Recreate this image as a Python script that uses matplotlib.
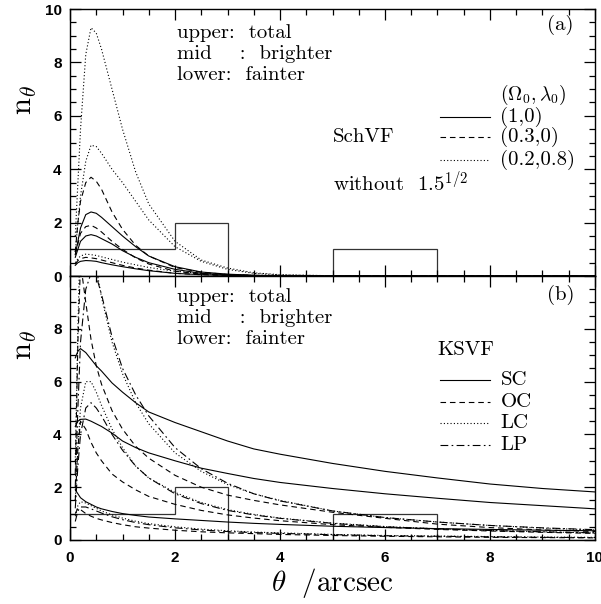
import matplotlib
matplotlib.use("Agg")
import matplotlib.pyplot as plt
from matplotlib.ticker import MultipleLocator
import numpy as np

plt.rcParams['mathtext.fontset'] = 'cm'

# angular grid the curves were read on (arcsec)
theta = [0.1, 0.15, 0.2, 0.3, 0.4, 0.5, 0.6, 0.8, 1.0, 1.25, 1.5, 2.0, 2.5,
         3.0, 3.5, 4.0, 5.0, 6.0, 7.0, 8.0, 9.0, 10.0]

# observed histogram (same in both panels)
hist_edges = [0, 2, 3, 5, 7, 10]
hist_counts = [1, 2, 0, 1, 0]

# panel (a): SchVF, (Omega0, lambda0) = (1,0), (0.3,0), (0.2,0.8)
sch_10_total = [0.8, 1.3, 1.8, 2.3, 2.4, 2.35, 2.2, 1.85, 1.5, 1.1, 0.75, 0.35, 0.15,
                0.07, 0.03, 0.01, 0.0, 0.0, 0.0, 0.0, 0.0, 0.0]
sch_10_bright = [0.7, 1.0, 1.3, 1.5, 1.55, 1.5, 1.4, 1.2, 0.95, 0.7, 0.5, 0.25, 0.1,
                 0.05, 0.02, 0.01, 0.0, 0.0, 0.0, 0.0, 0.0, 0.0]
sch_10_faint = [0.4, 0.5, 0.55, 0.58, 0.57, 0.55, 0.5, 0.42, 0.35, 0.27, 0.2, 0.1, 0.05,
                0.02, 0.01, 0.0, 0.0, 0.0, 0.0, 0.0, 0.0, 0.0]
sch_030_total = [0.9, 2.0, 2.8, 3.5, 3.7, 3.55, 3.25, 2.4, 1.75, 1.15, 0.75, 0.32, 0.14,
                 0.06, 0.02, 0.01, 0.0, 0.0, 0.0, 0.0, 0.0, 0.0]
sch_030_bright = [0.8, 1.2, 1.6, 1.85, 1.9, 1.8, 1.65, 1.3, 1.0, 0.68, 0.45, 0.18, 0.07,
                  0.03, 0.01, 0.0, 0.0, 0.0, 0.0, 0.0, 0.0, 0.0]
sch_030_faint = [0.45, 0.58, 0.65, 0.7, 0.68, 0.65, 0.6, 0.5, 0.4, 0.3, 0.22, 0.1, 0.05,
                 0.02, 0.01, 0.0, 0.0, 0.0, 0.0, 0.0, 0.0, 0.0]
sch_0208_total = [1.5, 3.5, 5.5, 8.3, 9.3, 9.1, 8.5, 7.0, 5.5, 3.9, 2.7, 1.3, 0.6,
                  0.3, 0.12, 0.05, 0.01, 0.0, 0.0, 0.0, 0.0, 0.0]
sch_0208_bright = [0.9, 2.0, 3.0, 4.3, 4.9, 4.85, 4.6, 4.0, 3.5, 2.8, 2.1, 1.1, 0.55,
                   0.25, 0.1, 0.04, 0.01, 0.0, 0.0, 0.0, 0.0, 0.0]
sch_0208_faint = [0.5, 0.65, 0.75, 0.82, 0.8, 0.77, 0.72, 0.62, 0.52, 0.42, 0.32, 0.18, 0.1,
                  0.05, 0.02, 0.01, 0.0, 0.0, 0.0, 0.0, 0.0, 0.0]

# panel (b): KSVF, models SC, OC, LC, LP
ks_sc_total = [6.9, 7.15, 7.25, 7.1, 6.85, 6.6, 6.4, 5.95, 5.6, 5.2, 4.85, 4.45, 4.1,
               3.75, 3.45, 3.25, 2.9, 2.6, 2.35, 2.12, 1.95, 1.82]
ks_sc_bright = [4.3, 4.5, 4.57, 4.58, 4.5, 4.4, 4.3, 4.05, 3.75, 3.5, 3.3, 3.0, 2.72,
                2.52, 2.33, 2.18, 1.95, 1.75, 1.58, 1.42, 1.3, 1.18]
ks_sc_faint = [1.9, 1.75, 1.6, 1.45, 1.35, 1.25, 1.18, 1.08, 1.0, 0.93, 0.87, 0.8, 0.74,
               0.68, 0.63, 0.59, 0.52, 0.47, 0.43, 0.4, 0.37, 0.35]
ks_oc_total = [2.5, 7.5, 10.5, 9.0, 7.6, 6.6, 5.9, 4.9, 4.2, 3.55, 3.1, 2.45, 2.0,
               1.7, 1.5, 1.33, 1.05, 0.82, 0.6, 0.47, 0.38, 0.32]
ks_oc_bright = [1.5, 3.5, 4.5, 4.2, 3.7, 3.3, 3.0, 2.5, 2.2, 1.9, 1.65, 1.35, 1.12,
                0.95, 0.83, 0.73, 0.58, 0.48, 0.4, 0.34, 0.29, 0.25]
ks_oc_faint = [1.0, 1.2, 1.15, 1.0, 0.9, 0.82, 0.76, 0.66, 0.58, 0.5, 0.45, 0.37, 0.31,
               0.27, 0.24, 0.21, 0.17, 0.14, 0.12, 0.1, 0.09, 0.08]
ks_lc_total = [3.0, 8.0, 12.0, 12.5, 11.5, 10.3, 9.2, 7.5, 6.3, 5.2, 4.4, 3.3, 2.6,
               2.1, 1.75, 1.5, 1.1, 0.85, 0.68, 0.55, 0.45, 0.38]
ks_lc_bright = [1.5, 3.5, 5.0, 6.0, 6.0, 5.6, 5.1, 4.2, 3.5, 2.8, 2.35, 1.8, 1.42,
                1.15, 0.97, 0.83, 0.64, 0.51, 0.42, 0.36, 0.31, 0.27]
ks_lc_faint = [0.9, 1.3, 1.45, 1.4, 1.3, 1.2, 1.1, 0.95, 0.83, 0.71, 0.62, 0.5, 0.41,
               0.35, 0.3, 0.27, 0.21, 0.17, 0.15, 0.13, 0.11, 0.1]
ks_lp_total = [2.0, 5.0, 7.5, 9.5, 10.1, 10.0, 9.3, 7.7, 6.5, 5.5, 4.7, 3.5, 2.7,
               2.15, 1.75, 1.48, 1.1, 0.85, 0.68, 0.55, 0.46, 0.39]
ks_lp_bright = [1.2, 2.8, 4.0, 5.0, 5.2, 5.0, 4.7, 4.0, 3.4, 2.8, 2.35, 1.75, 1.38,
                1.12, 0.95, 0.82, 0.63, 0.5, 0.42, 0.36, 0.31, 0.27]
ks_lp_faint = [0.7, 1.1, 1.25, 1.25, 1.18, 1.1, 1.02, 0.88, 0.77, 0.66, 0.58, 0.46, 0.38,
               0.32, 0.28, 0.25, 0.2, 0.16, 0.14, 0.12, 0.1, 0.09]

SOLID = '-'
DASH = (0, (5, 3.5))
DOT = (0, (1, 2))
DASHDOT = (0, (7, 3, 1.5, 3))

fig = plt.figure(figsize=(6.01, 6.04), dpi=100)
ax_a = fig.add_axes([0.1165, 0.543, 0.8735, 0.442])
ax_b = fig.add_axes([0.1165, 0.106, 0.8735, 0.437])

tickfont = {'family': 'Liberation Sans', 'weight': 'bold', 'size': 11}
txt = {'family': 'cmr10', 'size': 15}

for ax in (ax_a, ax_b):
    ax.stairs(hist_counts, hist_edges, color='#333333', lw=0.9)
    ax.set_xlim(0, 10)
    ax.set_ylim(0, 10)
    ax.xaxis.set_major_locator(MultipleLocator(2))
    ax.xaxis.set_minor_locator(MultipleLocator(0.5))
    ax.yaxis.set_major_locator(MultipleLocator(2))
    ax.yaxis.set_minor_locator(MultipleLocator(0.5))
    ax.tick_params(which='both', direction='in', top=True, right=True, width=0.9)
    ax.tick_params(which='major', length=8)
    ax.tick_params(which='minor', length=4)
    ax.tick_params(axis='y', pad=6)
    for s in ax.spines.values():
        s.set_linewidth(1.0)

# panel (a)
for y, ls in [(sch_10_total, SOLID), (sch_10_bright, SOLID), (sch_10_faint, SOLID),
              (sch_030_total, DASH), (sch_030_bright, DASH), (sch_030_faint, DASH),
              (sch_0208_total, DOT), (sch_0208_bright, DOT), (sch_0208_faint, DOT)]:
    ax_a.plot(theta, y, color='black', lw=0.8, ls=ls)

ax_a.set_xticklabels([])
ax_a.set_yticks([0, 2, 4, 6, 8, 10])
ax_a.set_yticklabels(['0', '2', '4', '6', '8', '10'], fontdict=tickfont)

ax_a.text(2.03, 9.1, 'upper:  total', va='center', **txt)
ax_a.text(2.03, 8.3, 'mid    :  brighter', va='center', **txt)
ax_a.text(2.03, 7.52, 'lower:  fainter', va='center', **txt)
ax_a.text(9.08, 9.4, '(a)', va='center', **txt)
ax_a.text(8.2, 6.8, r'$(\Omega_0,\lambda_0)$', va='center', fontsize=14)
ax_a.text(5.0, 5.21, 'SchVF', va='center', **txt)
ax_a.text(5.0, 3.48, r'without  1.5$^{1/2}$', va='center', **txt)
for yy, ls, lab in [(5.96, SOLID, '(1,0)'), (5.21, DASH, '(0.3,0)'), (4.34, DOT, '(0.2,0.8)')]:
    ax_a.plot([7.05, 8.0], [yy, yy], color='black', lw=0.8, ls=ls)
    ax_a.text(8.2, yy, lab, va='center', **txt)

ax_a.set_ylabel(r'$\mathrm{n}_\theta$', fontsize=22)
ax_a.yaxis.set_label_coords(-0.06, 0.66)

# panel (b)
for y, ls in [(ks_sc_total, SOLID), (ks_sc_bright, SOLID), (ks_sc_faint, SOLID),
              (ks_oc_total, DASH), (ks_oc_bright, DASH), (ks_oc_faint, DASH),
              (ks_lc_total, DOT), (ks_lc_bright, DOT), (ks_lc_faint, DOT),
              (ks_lp_total, DASHDOT), (ks_lp_bright, DASHDOT), (ks_lp_faint, DASHDOT)]:
    ax_b.plot(theta, y, color='black', lw=0.8, ls=ls)

ax_b.set_xticks([0, 2, 4, 6, 8, 10])
ax_b.set_xticklabels(['0', '2', '4', '6', '8', '10'], fontdict=tickfont)
ax_b.set_yticks([0, 2, 4, 6, 8, 10])
ax_b.set_yticklabels(['0', '2', '4', '6', '8', ''], fontdict=tickfont)
ax_b.tick_params(axis='x', pad=8)

ax_b.text(2.03, 9.2, 'upper:  total', va='center', **txt)
ax_b.text(2.03, 8.4, 'mid    :  brighter', va='center', **txt)
ax_b.text(2.03, 7.6, 'lower:  fainter', va='center', **txt)
ax_b.text(9.08, 9.28, '(b)', va='center', **txt)
ax_b.text(7.0, 7.2, 'KSVF', va='center', **txt)
for yy, ls, lab in [(6.06, SOLID, 'SC'), (5.23, DASH, 'OC'), (4.43, DOT, 'LC'), (3.6, DASHDOT, 'LP')]:
    ax_b.plot([7.05, 8.0], [yy, yy], color='black', lw=0.8, ls=ls)
    ax_b.text(8.2, yy, lab, va='center', **txt)

ax_b.set_ylabel(r'$\mathrm{n}_\theta$', fontsize=22)
ax_b.yaxis.set_label_coords(-0.06, 0.74)
ax_b.set_xlabel(r'$\theta\ \ /\mathrm{arcsec}$', fontsize=21, labelpad=1)

fig.savefig('out.png', dpi=100)
